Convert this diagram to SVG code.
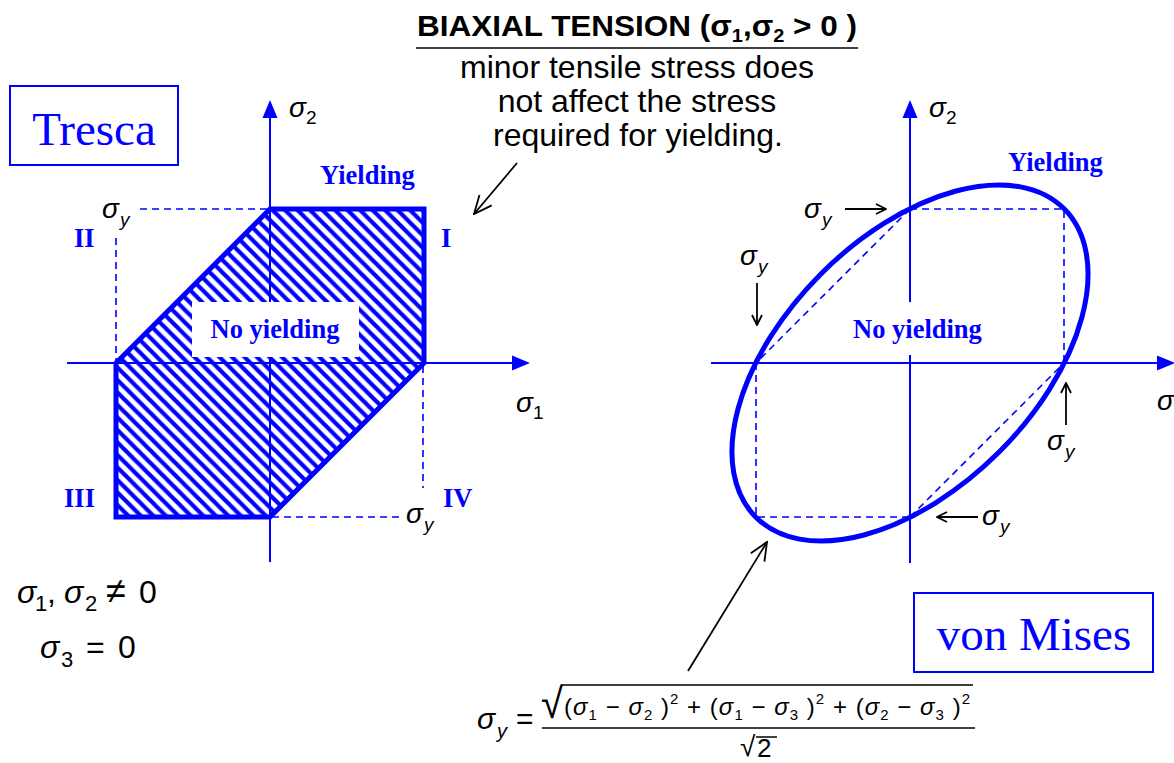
<svg xmlns="http://www.w3.org/2000/svg" width="1174" height="763" viewBox="0 0 1174 763">
<style>
.ax{stroke:#0000ff;stroke-width:2;fill:none}
.dash{stroke:#0000ff;stroke-width:1.6;stroke-dasharray:7,5;fill:none}
.thick{stroke:#0000ff;stroke-width:5;fill:none}
.blk{stroke:#000;stroke-width:1.8;fill:none}
.lbl{font-family:"Liberation Serif",serif;font-weight:bold;fill:#0000ff;font-size:26.5px}
.big{font-family:"Liberation Serif",serif;fill:#0000ff;font-size:47px}
.s{font-family:"Liberation Sans",Arial,sans-serif;font-style:italic;fill:#000}
.n{font-family:"Liberation Sans",Arial,sans-serif;fill:#000}
.ah{fill:#0000ff}
</style>
<defs>
<pattern id="hatch" patternUnits="userSpaceOnUse" width="12.5" height="12.5">
<path d="M-3,-3 L15.5,15.5 M-3,9.5 L3,15.5 M9.5,-3 L15.5,3" stroke="#0000ff" stroke-width="4.2"/>
</pattern>
<marker id="open" viewBox="0 0 12 12" refX="11" refY="6" markerWidth="12" markerHeight="12" markerUnits="userSpaceOnUse" orient="auto">
<path d="M1,1 L11,6 L1,11" fill="none" stroke="#000" stroke-width="1.8"/>
</marker>
<marker id="open2" viewBox="0 0 20 20" refX="19" refY="10" markerWidth="20" markerHeight="20" markerUnits="userSpaceOnUse" orient="auto">
<path d="M1,2 L19,10 L1,18" fill="none" stroke="#000" stroke-width="1.8"/>
</marker>
</defs>

<!-- Title -->
<g id="title">
<text x="637" y="36" text-anchor="middle" class="n" font-weight="bold" font-size="30" textLength="440" lengthAdjust="spacingAndGlyphs">BIAXIAL TENSION (σ<tspan font-size="19" dy="6">1</tspan><tspan dy="-6">,σ</tspan><tspan font-size="19" dy="6">2</tspan><tspan dy="-6">  &gt; 0 )</tspan></text>
<line x1="416" y1="48" x2="858" y2="48" stroke="#000" stroke-width="1.5"/>
<text class="n" font-size="32" text-anchor="middle" x="637" y="78">minor tensile stress does</text>
<text class="n" font-size="32" text-anchor="middle" x="637" y="112">not affect the stress</text>
<text class="n" font-size="32" text-anchor="middle" x="638" y="146">required for yielding.</text>
</g>

<!-- Tresca -->
<g id="tresca-box">
<rect x="10" y="86" width="168" height="79" fill="#fff" stroke="#0000ff" stroke-width="2"/>
<text class="big" x="94" y="145" text-anchor="middle">Tresca</text>
</g>

<g id="tresca-hexagon">
<polygon points="270,209 424,209 424,363 270,517 116,517 116,363" fill="url(#hatch)"/>
</g>

<g id="tresca-axes">
<line class="ax" x1="270" y1="562" x2="270" y2="115"/>
<polygon class="ah" points="270,100 262.5,118 277.5,118"/>
<line class="ax" x1="67" y1="363" x2="515" y2="363"/>
<polygon class="ah" points="530,363 512,355.5 512,370.5"/>
<text class="s" x="289" y="117" font-size="28">σ</text><text class="n" x="306" y="124" font-size="19">2</text>
<text class="s" x="516" y="412" font-size="28">σ</text><text class="n" x="533" y="419" font-size="19">1</text>
</g>

<g id="tresca-outline">
<polygon class="thick" points="270,209 424,209 424,363 270,517 116,517 116,363" stroke-linejoin="miter"/>
</g>

<g id="tresca-noyield">
<rect x="192" y="302" width="167" height="55" fill="#fff"/>
<text class="lbl" x="275" y="338" text-anchor="middle">No yielding</text>
</g>

<g id="tresca-dashes">
<line class="dash" x1="140" y1="209" x2="268" y2="209"/>
<line class="dash" x1="116" y1="238" x2="116" y2="361"/>
<line class="dash" x1="423" y1="366" x2="423" y2="488"/>
<line class="dash" x1="272" y1="517" x2="400" y2="517"/>
</g>

<g id="tresca-labels">
<text class="lbl" x="320" y="184">Yielding</text>
<text class="lbl" x="74" y="247">II</text>
<text class="lbl" x="441" y="247">I</text>
<text class="lbl" x="64" y="507">III</text>
<text class="lbl" x="443" y="507">IV</text>
<text class="s" x="102" y="218" font-size="28">σ</text><text class="s" x="120" y="226" font-size="19">y</text>
<text class="s" x="406" y="523" font-size="28">σ</text><text class="s" x="424" y="531" font-size="19">y</text>
</g>

<!-- conditions -->
<g id="conditions">
<text class="s" x="17" y="603" font-size="32">σ</text><text class="n" x="35" y="611" font-size="22">1</text>
<text class="n" x="47" y="603" font-size="32">,</text>
<text class="s" x="64" y="603" font-size="32">σ</text><text class="n" x="85" y="611" font-size="22">2</text>
<text class="n" x="106" y="603" font-size="36">≠</text>
<text class="n" x="139" y="603" font-size="32">0</text>
<text class="s" x="40" y="658" font-size="32">σ</text><text class="n" x="61" y="667" font-size="22">3</text>
<text class="n" x="86" y="658" font-size="32">=</text>
<text class="n" x="118" y="658" font-size="32">0</text>
</g>

<!-- von Mises -->
<g id="vm-axes">
<line class="ax" x1="910" y1="563" x2="910" y2="355"/>
<line class="ax" x1="910" y1="302" x2="910" y2="115"/>
<polygon class="ah" points="910,100 902.5,118 917.5,118"/>
<line class="ax" x1="711" y1="363" x2="1160" y2="363"/>
<polygon class="ah" points="1175,363 1157,355.5 1157,370.5"/>
<text class="s" x="929" y="117" font-size="28">σ</text><text class="n" x="946" y="124" font-size="19">2</text>
<text class="s" x="1157" y="410" font-size="28">σ</text>
</g>

<g id="vm-dashes">
<polyline class="dash" points="910,209 1064,209 1064,363"/>
<line class="dash" x1="910" y1="209" x2="756" y2="363"/>
<polyline class="dash" points="756,363 756,517 910,517"/>
<line class="dash" x1="910" y1="517" x2="1064" y2="363"/>
</g>

<g id="vm-ellipse">
<ellipse class="thick" cx="910" cy="363" rx="218" ry="126" transform="rotate(-45 910 363)"/>
</g>

<g id="vm-labels">
<text class="lbl" x="1008" y="171">Yielding</text>
<text class="lbl" x="853" y="338">No yielding</text>
<text class="s" x="804" y="218" font-size="28">σ</text><text class="s" x="822" y="226" font-size="19">y</text>
<text class="s" x="740" y="265" font-size="28">σ</text><text class="s" x="758" y="273" font-size="19">y</text>
<text class="s" x="1047" y="450" font-size="28">σ</text><text class="s" x="1065" y="458" font-size="19">y</text>
<text class="s" x="982" y="525" font-size="28">σ</text><text class="s" x="1000" y="533" font-size="19">y</text>
</g>

<g id="vm-box">
<rect x="914" y="593" width="239" height="79" fill="#fff" stroke="#0000ff" stroke-width="2"/>
<text class="big" x="1034" y="650" text-anchor="middle">von Mises</text>
</g>

<!-- connectors -->
<g id="connectors">
<line class="blk" x1="517" y1="163" x2="474" y2="214" marker-end="url(#open2)"/>
<line class="blk" x1="845" y1="209" x2="886" y2="209" marker-end="url(#open)"/>
<line class="blk" x1="757" y1="283" x2="757" y2="325" marker-end="url(#open)"/>
<line class="blk" x1="1066" y1="425" x2="1066" y2="383" marker-end="url(#open)"/>
<line class="blk" x1="978" y1="517" x2="937" y2="517" marker-end="url(#open)"/>
<line class="blk" x1="688" y1="671" x2="767" y2="542" marker-end="url(#open2)"/>
</g>

<!-- formula -->
<g id="formula">
<text class="s" x="477" y="729" font-size="30">σ</text><text class="s" x="497" y="738" font-size="20">y</text>
<text class="n" x="516" y="729" font-size="30">=</text>
<line x1="542" y1="728" x2="975" y2="728" stroke="#000" stroke-width="1.5"/>
<text class="n" x="541" y="715" font-size="40" transform="translate(0,-40) scale(1,1.06)">√</text>
<line x1="561" y1="685" x2="973" y2="685" stroke="#000" stroke-width="1.5"/>
<text class="n" x="564" y="715" font-size="24" textLength="406" lengthAdjust="spacing">(<tspan class="s">σ</tspan><tspan font-size="15" dy="5">1</tspan><tspan dy="-5"> − </tspan><tspan class="s">σ</tspan><tspan font-size="15" dy="5">2</tspan><tspan dy="-5"> )</tspan><tspan font-size="15" dy="-11">2</tspan><tspan dy="11"> + (</tspan><tspan class="s">σ</tspan><tspan font-size="15" dy="5">1</tspan><tspan dy="-5"> − </tspan><tspan class="s">σ</tspan><tspan font-size="15" dy="5">3</tspan><tspan dy="-5"> )</tspan><tspan font-size="15" dy="-11">2</tspan><tspan dy="11"> + (</tspan><tspan class="s">σ</tspan><tspan font-size="15" dy="5">2</tspan><tspan dy="-5"> − </tspan><tspan class="s">σ</tspan><tspan font-size="15" dy="5">3</tspan><tspan dy="-5"> )</tspan><tspan font-size="15" dy="-11">2</tspan></text>
<text class="n" x="740" y="756" font-size="28">√</text>
<line x1="756" y1="737" x2="777" y2="737" stroke="#000" stroke-width="1.5"/>
<text class="n" x="757" y="757" font-size="26">2</text>
</g>
</svg>
